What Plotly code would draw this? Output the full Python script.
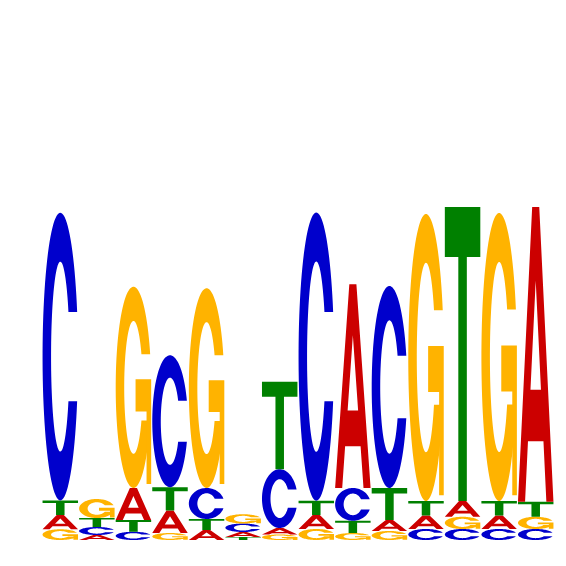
import numpy as np
import plotly.graph_objects as go

# Sequence logo data: information (bits) carried by each base at each position
positions = list(range(1, 15))
A = [0.057, 0.020, 0.128, 0.090, 0.040, 0.020, 0.026, 0.056, 0.815, 0.044, 0.054, 0.063, 0.054, 1.179]
C = [1.151, 0.032, 0.033, 0.528, 0.124, 0.034, 0.235, 1.153, 0.131, 0.808, 0.044, 0.044, 0.044, 0.044]
G = [0.043, 0.076, 0.805, 0.028, 0.799, 0.037, 0.022, 0.044, 0.028, 0.036, 1.148, 0.049, 1.152, 0.049]
T = [0.058, 0.036, 0.047, 0.093, 0.044, 0.012, 0.350, 0.057, 0.049, 0.128, 0.058, 1.176, 0.058, 0.060]

bases = {"A": A, "C": C, "G": G, "T": T}
colors = {"A": "#CC0000", "C": "#0000CC", "G": "#FFB300", "T": "#008000"}

GLYPH_W = 0.97


def ring(cut=0.655, rxi=0.26, ryi=0.33, n=90):
    t1 = np.arcsin((cut - 0.5) / 0.5)
    to = np.linspace(t1, 2 * np.pi - t1, n)
    outer = [(0.5 + 0.5 * np.cos(t), 0.5 + 0.5 * np.sin(t)) for t in to]
    s1 = np.arcsin((cut - 0.5) / ryi)
    ti = np.linspace(2 * np.pi - s1, s1, n)
    inner = [(0.5 + rxi * np.cos(t), 0.5 + ryi * np.sin(t)) for t in ti]
    return outer + inner


def glyph(letter):
    """List of shapes; each shape is a list of closed sub-polygons (unit box)."""
    if letter == "A":
        outer = [(0, 0), (0.4, 1), (0.6, 1), (1, 0), (0.8, 0), (0.718, 0.205),
                 (0.282, 0.205), (0.2, 0)]
        hole = [(0.352, 0.38), (0.5, 0.75), (0.648, 0.38)]
        return [[outer, hole]]
    if letter == "T":
        return [[[(0, 1), (1, 1), (1, 0.83), (0.62, 0.83), (0.62, 0),
                  (0.38, 0), (0.38, 0.83), (0, 0.83)]]]
    if letter == "C":
        return [[ring()]]
    if letter == "G":
        bar = [(0.56, 0.54), (1.0, 0.54), (1.0, 0.02), (0.87, 0.02),
               (0.87, 0.38), (0.56, 0.38)]
        return [[ring(cut=0.665)], [bar]]
    return []


shapes = []
for i, pos in enumerate(positions):
    heights = sorted(((bases[b][i], b) for b in "ACGT"))
    y0 = 0.0
    x0 = pos - GLYPH_W / 2
    for h, b in heights:
        for comp in glyph(b):
            parts = []
            for poly in comp:
                pts = [(x0 + u * GLYPH_W, y0 + v * h) for u, v in poly]
                parts.append("M " + " L ".join(f"{x:.5f},{y:.5f}" for x, y in pts) + " Z")
            shapes.append(dict(type="path", xref="x", yref="y", path=" ".join(parts),
                               fillcolor=colors[b], line=dict(width=0),
                               fillrule="evenodd", layer="above"))
        y0 += h

fig = go.Figure()
fig.add_trace(go.Scatter(x=positions, y=[0] * len(positions), mode="markers",
                         marker=dict(opacity=0), hoverinfo="skip", showlegend=False))
fig.update_layout(
    width=558, height=558,
    margin=dict(l=34, r=12, t=32, b=26),
    paper_bgcolor="white", plot_bgcolor="white",
    shapes=shapes,
    xaxis=dict(range=[0.5, 14.5], visible=False, showgrid=False, zeroline=False),
    yaxis=dict(range=[0, 2], visible=False, showgrid=False, zeroline=False),
    showlegend=False,
)
fig.write_html("out.html")
